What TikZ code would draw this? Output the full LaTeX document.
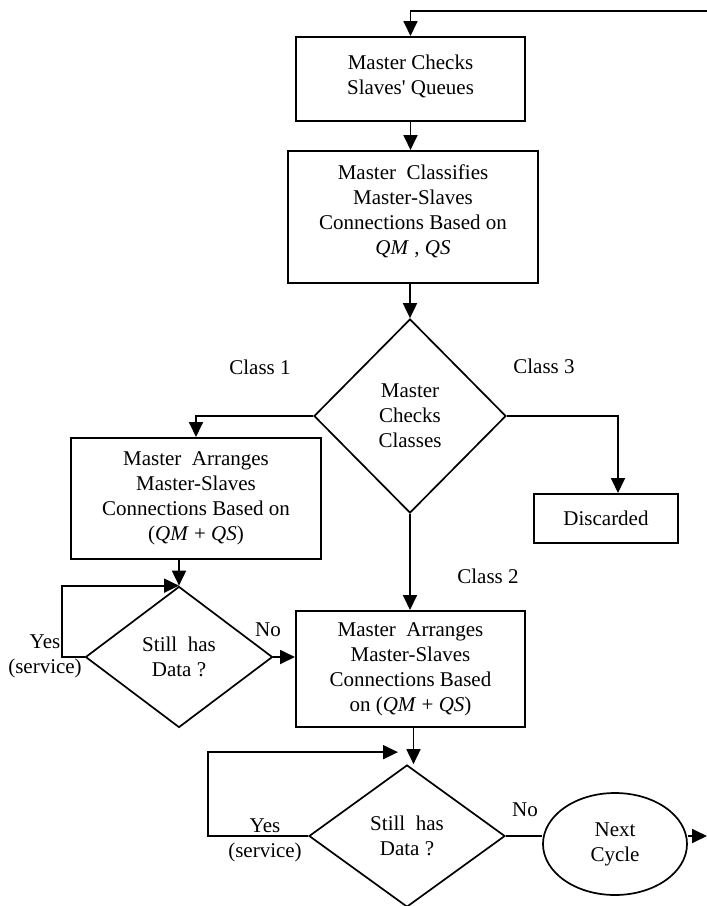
\documentclass[tikz,border=0pt]{standalone}
\usepackage{fontspec}
\setmainfont{Liberation Serif}
\usetikzlibrary{shapes.geometric,arrows.meta,calc}
\begin{document}
\begin{tikzpicture}[x=1pt,y=-1pt,
  every node/.style={font=\fontsize{21}{25}\selectfont, align=center},
  box/.style={draw, line width=2pt, inner sep=2pt},
  dia/.style={draw, diamond, line width=1.7pt, inner sep=0pt},
  arr/.style={line width=1.8pt, -{Triangle[length=15pt,width=14pt]}},
  ln/.style={line width=1.8pt}]
\useasboundingbox (0,0) rectangle (707,906);

% boxes
\node[box, minimum width=229pt, minimum height=84pt, text depth=8pt] (b1) at (410.5,79) {Master Checks\\Slaves\textquotesingle{} Queues};
\node[box, minimum width=250pt, minimum height=132pt, text depth=15pt] (b2) at (413,217) {Master\ \ Classifies\\Master-Slaves\\Connections Based on\\\textit{QM} , \textit{QS}};
\node[dia, minimum width=192pt, minimum height=194pt] (d1) at (410,416) {Master\\Checks\\Classes};
\node[box, minimum width=250pt, minimum height=121pt] (b3) at (196,498.5) {Master\ \ Arranges\\Master-Slaves\\Connections Based on\\(\textit{QM} + \textit{QS})};
\node[box, minimum width=144pt, minimum height=49pt] (disc) at (606,518.5) {Discarded};
\node[box, minimum width=229pt, minimum height=116pt] (b4) at (410.5,669) {Master\ \ Arranges\\Master-Slaves\\Connections Based\\on (\textit{QM} + \textit{QS})};
\node[dia, minimum width=187pt, minimum height=141pt] (d2) at (179,657) {Still\ \ has\\Data ?};
\node[dia, minimum width=196pt, minimum height=142pt] (d3) at (407,836) {Still\ \ has\\Data ?};
\node[draw, ellipse, line width=1.7pt, minimum width=144pt, minimum height=102pt] (nc) at (615,844) {Next\\Cycle};

% labels
\node (c1) at (260,367) {Class 1};
\node (c3) at (544,366) {Class 3};
\node (c2) at (488,576) {Class 2};
\node (y1) at (45,656) {Yes\\(service)};
\node (y2) at (265,840) {Yes\\(service)};
\node (n1) at (268,630) {No};
\node (n2) at (525,810) {No};

% connectors
\coordinate (topR) at (707,11);
\coordinate (endR) at (707,836);
\draw[arr] (topR) -| (b1.north);
\draw[arr] (b1.south) -- (b1.south |- b2.north);
\draw[arr] (b2.south -| d1.north) -- (d1.north);
\draw[arr] (d1.west) -| (b3.north);
\draw[arr] (d1.east) -| ([xshift=12pt]disc.north);
\draw[arr] (d1.south) -- (d1.south |- b4.north);
\draw[arr] (b3.south -| d2.north) -- (d2.north);
\draw[arr] (d2.west) -- ++(-23,0) |- (d2.north);
\draw[arr] (d2.east) -- (d2.east -| b4.west);
\draw[arr] ([xshift=3pt]b4.south) -- ([xshift=3pt]b4.south |- d3.north);
\draw[arr] (d3.west) -- ++(-100,0) |- ($(d3.north)+(-9,-12)$);
\draw[ln] (d3.east) -- (d3.east -| nc.west);
\draw[arr] (nc.east |- d3.east) -- (endR);
\end{tikzpicture}
\end{document}
